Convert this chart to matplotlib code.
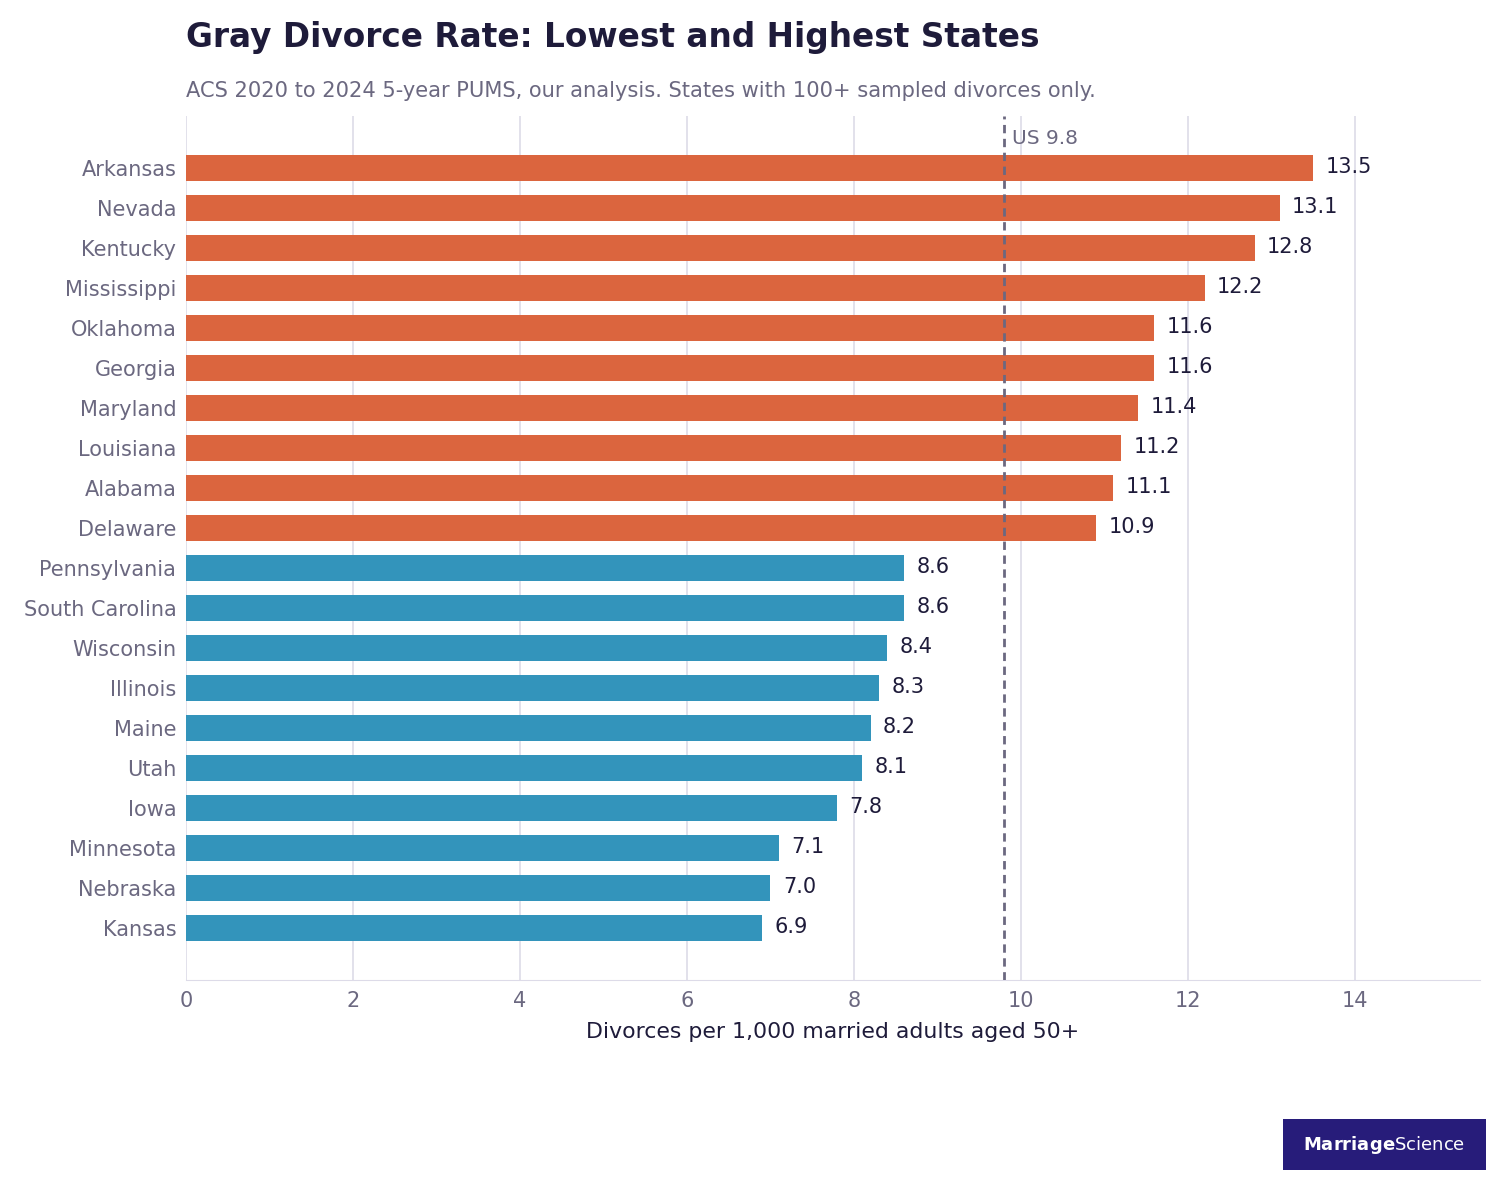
import matplotlib.pyplot as plt

states = ["Arkansas", "Nevada", "Kentucky", "Mississippi", "Oklahoma", "Georgia",
          "Maryland", "Louisiana", "Alabama", "Delaware", "Pennsylvania",
          "South Carolina", "Wisconsin", "Illinois", "Maine", "Utah", "Iowa",
          "Minnesota", "Nebraska", "Kansas"]
rates = [13.5, 13.1, 12.8, 12.2, 11.6, 11.6, 11.4, 11.2, 11.1, 10.9,
         8.6, 8.6, 8.4, 8.3, 8.2, 8.1, 7.8, 7.1, 7.0, 6.9]
groups = ["high"] * 10 + ["low"] * 10
us_rate = 9.8

colors = {"high": "#db653e", "low": "#3394bb"}
grey = "#6b6880"

fig = plt.figure(figsize=(15.04, 11.84), dpi=100)
ax = fig.add_axes([186 / 1504, 1 - 980 / 1184, (1480 - 186) / 1504, (980 - 116) / 1184])

y = list(range(len(states)))
ax.barh(y, rates, height=0.65, color=[colors[g] for g in groups], zorder=2)
for yi, v in zip(y, rates):
    ax.text(v + 0.15, yi - 0.03, f"{v:.1f}", va="center", ha="left", fontsize=15, color="#1e1b3a")

ax.axvline(us_rate, color=grey, linestyle=(0, (3, 2)), linewidth=2, zorder=3)
ax.text(us_rate + 0.1, -0.75, f"US {us_rate}", fontsize=14.5, color=grey, va="center")

ax.set_xlim(0, 15.5)
ax.set_ylim(len(states) - 1 + 1.3, -1.3)
ax.set_yticks(y)
ax.set_yticklabels(states, fontsize=15, color=grey)
ax.set_xticks(range(0, 15, 2))
ax.tick_params(axis="x", labelsize=15, labelcolor=grey, length=0, pad=8)
ax.tick_params(axis="y", length=0, pad=7)
ax.grid(axis="x", color="#dddbe8", linewidth=1.2, zorder=0)
for s in ["top", "right", "left"]:
    ax.spines[s].set_visible(False)
ax.spines["bottom"].set_color("#dddbe8")
ax.set_xlabel("Divorces per 1,000 married adults aged 50+", fontsize=15.8, color="#1e1b3a", labelpad=8)

fig.text(186 / 1504, 1 - 38 / 1184, "Gray Divorce Rate: Lowest and Highest States",
         fontsize=23.6, fontweight="bold", color="#1e1b3a", va="center")
fig.text(186 / 1504, 1 - 91 / 1184,
         "ACS 2020 to 2024 5-year PUMS, our analysis. States with 100+ sampled divorces only.",
         fontsize=15.1, color=grey, va="center")

logo = fig.add_axes([1283 / 1504, 1 - 1170 / 1184, 203 / 1504, 51 / 1184])
logo.set_facecolor("#271c7a")
logo.set_xticks([])
logo.set_yticks([])
for s in logo.spines.values():
    s.set_visible(False)
logo.text(0.5, 0.5, r"$\mathbf{Marriage}$Science", color="white", fontsize=13,
          ha="center", va="center", transform=logo.transAxes)

fig.savefig("out.png", dpi=100)
